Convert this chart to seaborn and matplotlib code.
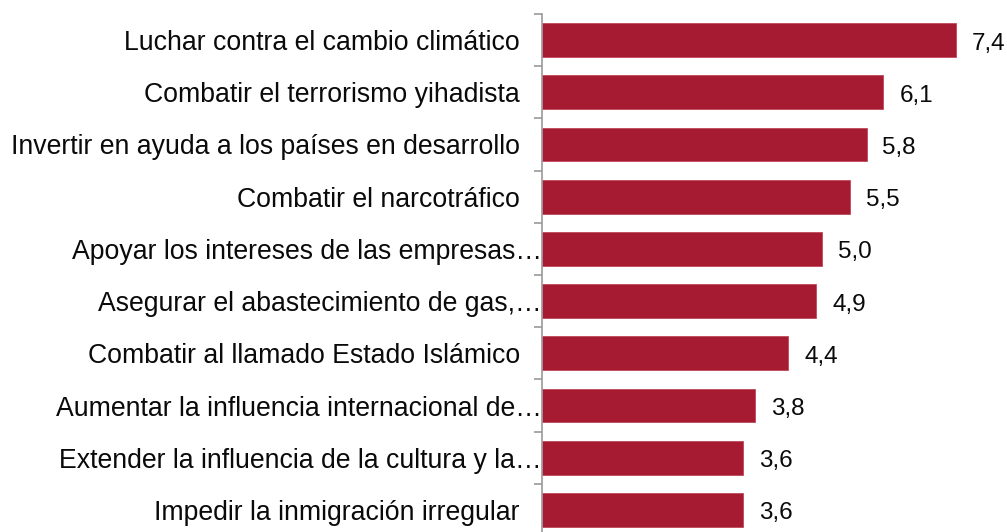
import matplotlib
matplotlib.use("Agg")
import matplotlib.pyplot as plt
import seaborn as sns
import pandas as pd

categories = [
    "Luchar contra el cambio climático",
    "Combatir el terrorismo yihadista",
    "Invertir en ayuda a los países en desarrollo",
    "Combatir el narcotráfico",
    "Apoyar los intereses de las empresas…",
    "Asegurar el abastecimiento de gas,…",
    "Combatir al llamado Estado Islámico",
    "Aumentar la influencia internacional de…",
    "Extender la influencia de la cultura y la…",
    "Impedir la inmigración irregular",
]
values = [7.4, 6.1, 5.8, 5.5, 5.0, 4.9, 4.4, 3.8, 3.6, 3.6]
value_labels = ["7,4", "6,1", "5,8", "5,5", "5,0", "4,9", "4,4", "3,8", "3,6", "3,6"]

df = pd.DataFrame({"cat": categories, "val": values})

sns.set_theme(style="white")
plt.rcParams["font.family"] = ["Liberation Sans", "DejaVu Sans"]

W, H = 1007, 532
fig = plt.figure(figsize=(W / 100, H / 100), dpi=100)
ax = fig.add_axes([542 / W, (H - 536) / H, 448 / W, 522 / H])

bar_color = "#A61B31"
sns.barplot(data=df, x="val", y="cat", order=categories, color=bar_color,
            width=0.65, saturation=1, ax=ax, edgecolor="#c0485a", linewidth=0.6)

ax.set_xlim(0, 448 / 55.95)
ax.set_ylim(len(categories) - 0.5, -0.5)
ax.set_xlabel("")
ax.set_ylabel("")
ax.set_xticks([])

for s in ["top", "right", "bottom"]:
    ax.spines[s].set_visible(False)
ax.spines["left"].set_color("#9a9a9a")
ax.spines["left"].set_linewidth(1.2)

n = len(categories)
ax.set_yticks([i - 0.5 for i in range(n + 1)])
ax.set_yticklabels([])
ax.set_yticks(list(range(n)), minor=True)
ax.set_yticklabels(categories, minor=True, fontsize=19.2, color="#0a0a0a")
ax.tick_params(axis="y", which="major", length=6, width=1.2, color="#9a9a9a", left=True)
ax.tick_params(axis="y", which="minor", length=0, pad=16)

for i, t in enumerate(ax.yaxis.get_minor_ticks()):
    if categories[i].endswith("…"):
        t.set_pad(0)

for i, (v, lab) in enumerate(zip(values, value_labels)):
    ax.annotate(lab, xy=(v, i), xytext=(11.5, -2.5), textcoords="offset points",
                va="center", ha="left", fontsize=17.5, color="#0a0a0a",
                annotation_clip=False)

fig.savefig("out.png", dpi=100, facecolor="white")
